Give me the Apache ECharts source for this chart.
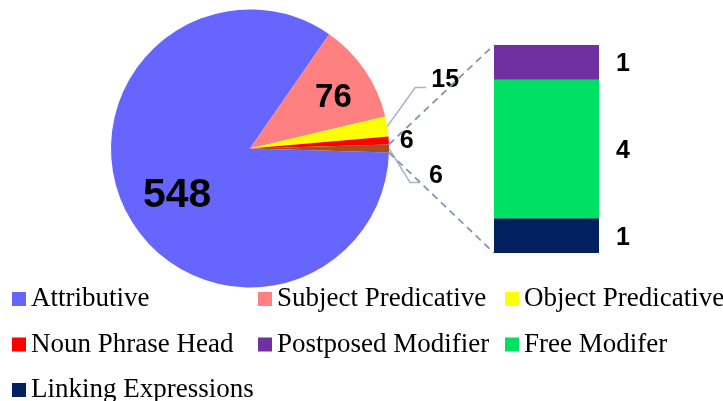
<!DOCTYPE html>
<html><head><meta charset="utf-8">
<script src="https://cdn.jsdelivr.net/npm/echarts@6/dist/echarts.min.js"></script>
<style>html,body{margin:0;padding:0;background:#fff}#c{width:723px;height:401px}</style>
</head><body><div id="c"></div>
<script>
// ---- data ----
const pieNames = ['Attributive', 'Subject Predicative', 'Object Predicative', 'Noun Phrase Head', 'Other'];
const pieValues = [548, 76, 15, 6, 6];
const pieColors = ['#6666FF', '#FF8080', '#FFFF00', '#FF0000', '#A5501E'];
const barCategory = ['Other'];
const barNames = ['Linking Expressions', 'Free Modifer', 'Postposed Modifier'];
const barValues = [1, 4, 1];
const barColors = ['#002060', '#00E064', '#7030A0'];
const legendCols = [
  ['Attributive', 'Noun Phrase Head', 'Linking Expressions'],
  ['Subject Predicative', 'Postposed Modifier'],
  ['Object Predicative', 'Free Modifer']
];

// ---- layout / style ----
const CX = 250, CY = 148.5, R = 139;
const LABEL_FONT = 'Liberation Sans, Arial, sans-serif';
const LEGEND_FONT = 'Liberation Serif, Times New Roman, serif';
const pieLabelStyle = [
  { kind: 'in', r: 0.62, dx: 4, dy: 8, size: 41 },
  { kind: 'in', r: 0.70, dx: 3, dy: 4, size: 33 },
  { kind: 'out', line: [[28, -39], [39, -39]], dx: 44, dy: -46, size: 25 },
  { kind: 'out', dx: 11, dy: 1, size: 25 },
  { kind: 'out', line: [[21, 34], [31, 34]], dx: 40, dy: 28, size: 25 }
];

const total = pieValues.reduce((a, b) => a + b, 0);
const otherSweep = pieValues[pieValues.length - 1] / total * 360;
const startAngle = -otherSweep / 2;
function midAngle(i) {
  let acc = 0;
  for (let j = 0; j < i; j++) acc += pieValues[j];
  return startAngle - (acc + pieValues[i] / 2) / total * 360;
}
function pt(angDeg, rad) {
  const a = angDeg * Math.PI / 180;
  return [CX + rad * Math.cos(a), CY - rad * Math.sin(a)];
}

const pieData = pieNames.map((n, i) => ({
  name: n, value: pieValues[i],
  itemStyle: { color: pieColors[i] },
  label: { fontSize: pieLabelStyle[i].size },
  labelLine: { show: !!pieLabelStyle[i].line }
}));

const chart = echarts.init(document.getElementById('c'), null, { renderer: 'canvas' });

const option = {
  animation: false,
  backgroundColor: '#fff',
  grid: { left: 494, top: 45, width: 105, height: 208 },
  xAxis: { type: 'category', data: barCategory, show: false },
  yAxis: { type: 'value', min: 0, max: barValues.reduce((a, b) => a + b, 0), show: false },
  legend: legendCols.map((col, i) => ({
    data: col, orient: 'vertical', left: [12, 258, 505][i], top: 285.5, height: 160, padding: 0,
    itemWidth: 14, itemHeight: 14, itemGap: 18.5, icon: 'rect', selectedMode: false,
    textStyle: { fontFamily: LEGEND_FONT, fontSize: 27, color: '#000' }
  })),
  series: [
    {
      type: 'pie', center: [CX, CY], radius: R, startAngle: startAngle, clockwise: true,
      avoidLabelOverlap: false,
      label: { show: true, position: 'outside', formatter: '{c}', color: '#000', fontWeight: 'bold', fontFamily: LABEL_FONT },
      labelLine: { show: true, lineStyle: { color: '#A6B6CC', width: 1.5 } },
      labelLayout: function (p) {
        const s = pieLabelStyle[p.dataIndex];
        const a = midAngle(p.dataIndex);
        if (s.kind === 'in') {
          const q = pt(a, s.r * R);
          return { x: q[0] + s.dx, y: q[1] + s.dy, align: 'center', verticalAlign: 'middle' };
        }
        const e = pt(a, R);
        const res = { x: e[0] + s.dx, y: e[1] + s.dy, align: 'left', verticalAlign: 'middle' };
        if (s.line) {
          res.labelLinePoints = [e, [e[0] + s.line[0][0], e[1] + s.line[0][1]], [e[0] + s.line[1][0], e[1] + s.line[1][1]]];
        }
        return res;
      },
      data: pieData
    }
  ].concat(barNames.map((n, i) => ({
    type: 'bar', name: n, stack: 'other', data: [barValues[i]], barWidth: '100%',
    itemStyle: { color: barColors[i] },
    label: { show: true, position: 'right', distance: 17, offset: [0, 2], formatter: '{c}', color: '#000', fontWeight: 'bold', fontSize: 25, fontFamily: LABEL_FONT }
  })))
};
chart.setOption(option);

// connector lines from the "other" slice to the stacked bar
const ymax = barValues.reduce((a, b) => a + b, 0);
const topPx = chart.convertToPixel({ yAxisIndex: 0 }, ymax);
const botPx = chart.convertToPixel({ yAxisIndex: 0 }, 0);
let leftPx;
try {
  leftPx = chart.getModel().getComponent('grid', 0).coordinateSystem.getRect().x;
} catch (err) { leftPx = option.grid.left; }
const eTop = pt(startAngle + otherSweep, R);
const eBot = pt(startAngle, R);
const dash = { stroke: '#8496B0', lineWidth: 1.8, lineDash: [7, 5] };
chart.setOption({
  graphic: [
    { type: 'line', shape: { x1: eTop[0], y1: eTop[1], x2: leftPx, y2: topPx }, style: dash, z: 10 },
    { type: 'line', shape: { x1: eBot[0], y1: eBot[1], x2: leftPx, y2: botPx }, style: dash, z: 10 }
  ]
});
</script></body></html>
